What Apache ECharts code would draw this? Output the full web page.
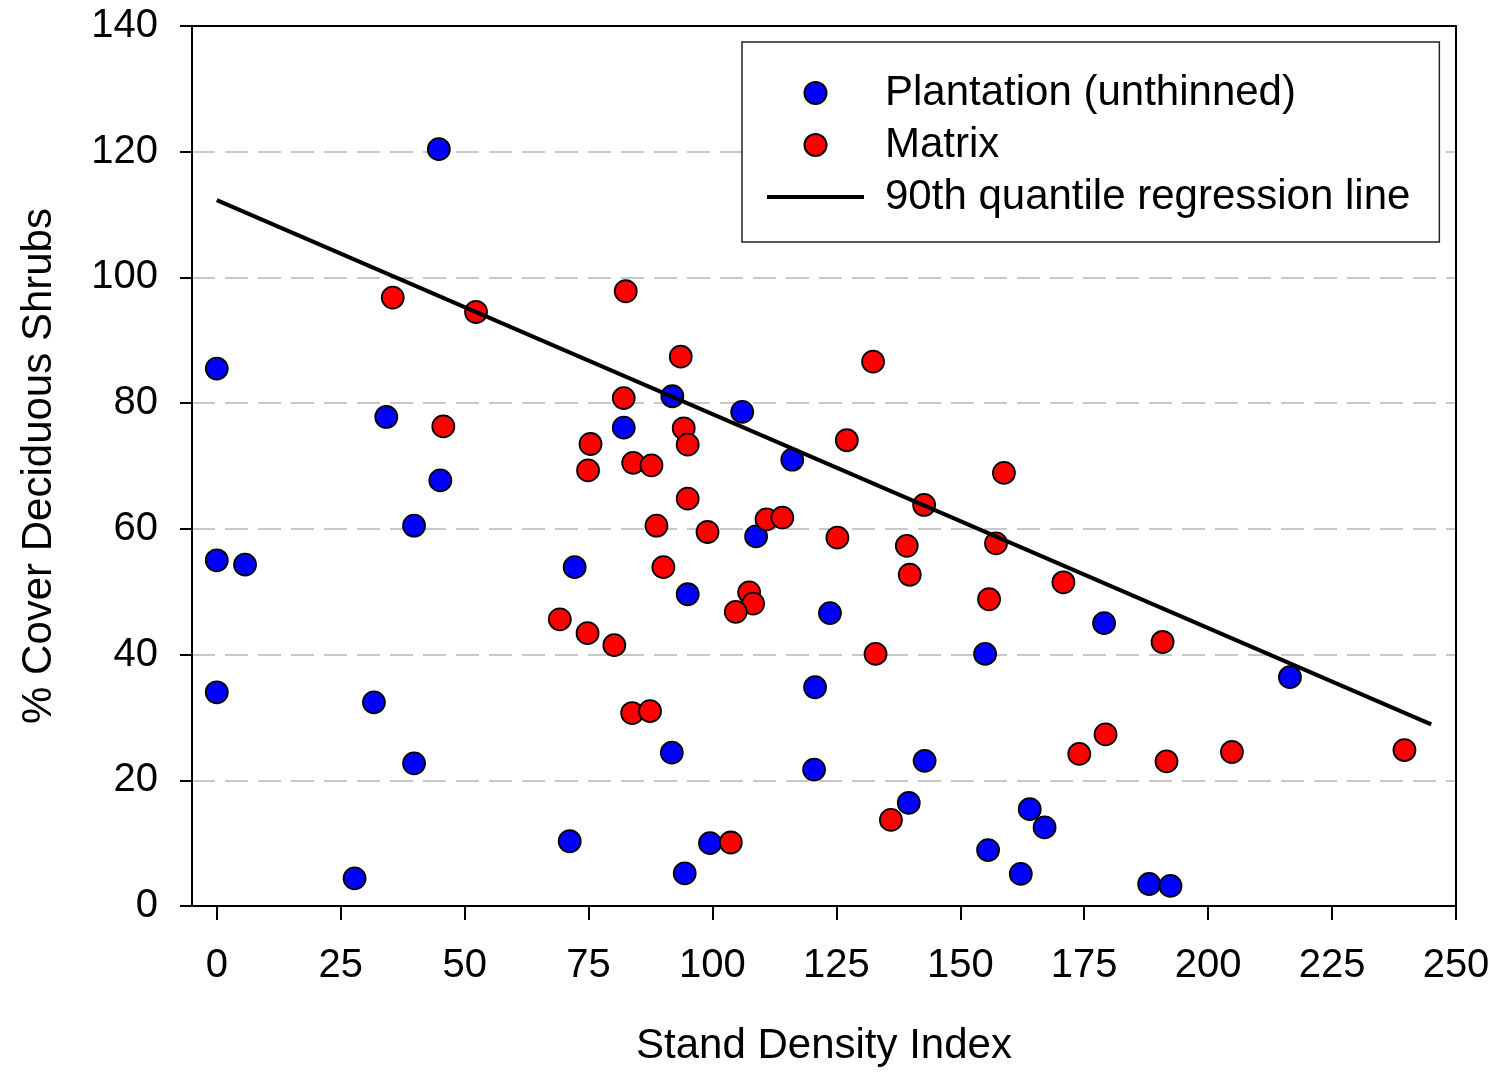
<!DOCTYPE html>
<html>
<head>
<meta charset="utf-8">
<title>% Cover Deciduous Shrubs vs Stand Density Index</title>
<script src="https://cdn.jsdelivr.net/npm/echarts@6/dist/echarts.min.js"></script>
<style>
  html, body { margin: 0; padding: 0; background: #ffffff; }
  #chart { width: 1498px; height: 1072px; }
</style>
</head>
<body>
<div id="chart"></div>
<script>
// Plantation (unthinned) stands: [stand density index, % cover]
const plantation = [
  [0, 85.5], [0, 55.0], [5.7, 54.3], [0, 34.0], [27.8, 4.4], [31.7, 32.4],
  [34.2, 77.8], [39.8, 22.7], [39.8, 60.5], [45.1, 67.7], [44.8, 120.4],
  [72.2, 53.9], [71.2, 10.3], [82.1, 76.1], [91.9, 81.1], [91.8, 24.4],
  [95.0, 49.6], [94.4, 5.2], [99.5, 10.0], [106.0, 78.6], [108.8, 58.8],
  [116.1, 71.0], [120.7, 34.8], [120.5, 21.7], [123.7, 46.6], [139.6, 16.4],
  [142.8, 23.1], [155.0, 40.1], [155.6, 8.9], [162.2, 5.1], [164.0, 15.4],
  [167.0, 12.5], [179.0, 45.0], [188.1, 3.5], [192.4, 3.2], [216.5, 36.4]
];

// Matrix stands: [stand density index, % cover]
const matrix = [
  [35.5, 96.8], [52.3, 94.5], [45.7, 76.3], [82.5, 97.8], [93.6, 87.4],
  [82.1, 80.8], [75.4, 73.5], [74.9, 69.3], [84.0, 70.5], [87.7, 70.1],
  [94.2, 76.0], [95.0, 73.4], [95.0, 64.8], [88.7, 60.5], [99.0, 59.5],
  [90.1, 53.9], [110.9, 61.5], [114.1, 61.8], [107.4, 49.9], [108.2, 48.1],
  [104.7, 46.8], [69.2, 45.6], [74.8, 43.4], [80.2, 41.5], [83.8, 30.7],
  [87.4, 31.0], [103.7, 10.1], [125.2, 58.6], [127.1, 74.1], [132.4, 86.6],
  [132.9, 40.1], [136.0, 13.7], [139.2, 57.3], [139.8, 52.7], [142.7, 63.8],
  [155.8, 48.8], [157.2, 57.7], [158.8, 68.9], [170.8, 51.5], [174.0, 24.2],
  [179.3, 27.3], [190.8, 42.0], [191.6, 23.0], [204.8, 24.5], [239.6, 24.8]
];

// End points of the 90th quantile regression line
const quantileLine = [[0, 112.3], [245, 28.9]];

// Axis tick values
const xTicks = [0, 25, 50, 75, 100, 125, 150, 175, 200, 225, 250];

const seriesNames = ['Plantation (unthinned)', 'Matrix', '90th quantile regression line'];
const FONT = '"Liberation Sans", Arial, sans-serif';
const frameLine = { show: true, onZero: false, lineStyle: { color: '#000', width: 2 } };

const chart = echarts.init(document.getElementById('chart'), null, { renderer: 'canvas' });

chart.setOption({
  backgroundColor: '#ffffff',
  animation: false,
  textStyle: { fontFamily: FONT, color: '#000' },
  grid: { left: 192, right: 42, top: 26, bottom: 161, show: false },
  legend: {
    orient: 'vertical',
    left: 742, top: 42,
    padding: [30, 29, 24, 25],
    itemGap: 10,
    itemWidth: 97, itemHeight: 22,
    borderColor: '#222', borderWidth: 1.5,
    backgroundColor: '#ffffff',
    selectedMode: false,
    textStyle: { fontSize: 42, fontFamily: FONT, color: '#000', padding: [0, 0, 0, 16] },
    data: [
      { name: seriesNames[0], icon: 'circle' },
      { name: seriesNames[1], icon: 'circle' },
      { name: seriesNames[2], icon: 'path://M0,0L100,0L100,4.2L0,4.2Z',
        itemStyle: { color: '#000', borderWidth: 0 } }
    ]
  },
  xAxis: [
    {
      type: 'value',
      min: -5, max: 250,
      name: 'Stand Density Index',
      nameLocation: 'middle',
      nameGap: 119,
      nameTextStyle: { fontSize: 42, fontFamily: FONT, color: '#000' },
      axisLine: frameLine,
      axisTick: { show: true, customValues: xTicks, length: 14, lineStyle: { color: '#000', width: 2 } },
      axisLabel: { customValues: xTicks, fontSize: 40, margin: 40, color: '#000', fontFamily: FONT },
      splitLine: { show: false }
    },
    {
      // top edge of the plot frame
      type: 'value', position: 'top',
      min: -5, max: 250,
      axisLine: frameLine,
      axisTick: { show: false }, axisLabel: { show: false }, splitLine: { show: false }
    }
  ],
  yAxis: [
    {
      type: 'value',
      min: 0, max: 140, interval: 20,
      name: '% Cover Deciduous Shrubs',
      nameLocation: 'middle',
      nameGap: 132,
      nameTextStyle: { fontSize: 42, fontFamily: FONT, color: '#000' },
      axisLine: frameLine,
      axisTick: { show: true, length: 12, lineStyle: { color: '#000', width: 2 } },
      axisLabel: { fontSize: 40, margin: 34, color: '#000', fontFamily: FONT },
      splitLine: { show: true, lineStyle: { color: '#c8c8c8', width: 2, type: [23, 10] } }
    },
    {
      // right edge of the plot frame
      type: 'value', position: 'right',
      min: 0, max: 140, interval: 20,
      axisLine: frameLine,
      axisTick: { show: false }, axisLabel: { show: false }, splitLine: { show: false }
    }
  ],
  series: [
    {
      name: seriesNames[0],
      type: 'scatter',
      data: plantation,
      symbol: 'circle',
      symbolSize: 22,
      itemStyle: { color: '#0000ff', borderColor: '#000', borderWidth: 1.8, opacity: 1 },
      z: 3
    },
    {
      name: seriesNames[1],
      type: 'scatter',
      data: matrix,
      symbol: 'circle',
      symbolSize: 22,
      itemStyle: { color: '#ff0000', borderColor: '#000', borderWidth: 1.8, opacity: 1 },
      z: 3
    },
    {
      name: seriesNames[2],
      type: 'line',
      data: quantileLine,
      symbol: 'none',
      showSymbol: false,
      lineStyle: { color: '#000', width: 4.2 },
      itemStyle: { color: '#000' },
      z: 4
    }
  ]
});
</script>
</body>
</html>
